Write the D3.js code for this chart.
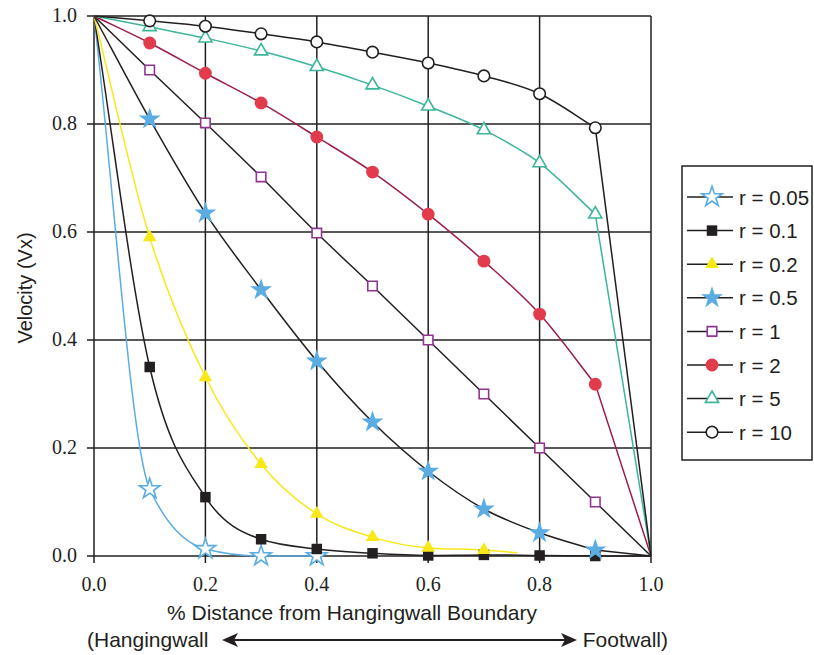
<!DOCTYPE html>
<html>
<head>
<meta charset="utf-8">
<script src="https://cdn.jsdelivr.net/npm/d3@7"></script>
<style>
  body { margin: 0; background: #fff; }
  .tick-label { font-family: "Liberation Serif", "DejaVu Serif", serif; font-size: 20px; fill: #231f20; }
  .label { font-family: "Liberation Sans", Arial, sans-serif; font-size: 21px; fill: #231f20; }
  .legend-text { font-family: "Liberation Sans", Arial, sans-serif; font-size: 20.5px; fill: #231f20; }
</style>
</head>
<body>
<script>
// x positions of the samples (fraction of distance from hangingwall boundary)
var xs = [0, 0.1, 0.2, 0.3, 0.4, 0.5, 0.6, 0.7, 0.8, 0.9, 1.0];
var ticks = [0, 0.2, 0.4, 0.6, 0.8, 1.0];

// velocity values
var r005 = [1.0, 0.124, 0.013, 0.0, 0.0];
var r01 = [1.0, 0.35, 0.109, 0.031, 0.013, 0.005, 0.001, 0.002, 0.001, 0.0, 0.0];
var r02 = [1.0, 0.59, 0.331, 0.17, 0.078, 0.035, 0.015, 0.011, 0.006];
var r02x = [0, 0.1, 0.2, 0.3, 0.4, 0.5, 0.6, 0.7, 0.76];
var r05 = [1.0, 0.809, 0.635, 0.493, 0.361, 0.248, 0.157, 0.087, 0.043, 0.011, 0.0];
var r1 = [1.0, 0.9, 0.802, 0.702, 0.598, 0.5, 0.4, 0.3, 0.2, 0.1, 0.0];
var r2 = [1.0, 0.95, 0.894, 0.839, 0.776, 0.711, 0.633, 0.546, 0.448, 0.318, 0.0];
var r5 = [1.0, 0.98, 0.959, 0.935, 0.906, 0.872, 0.833, 0.789, 0.728, 0.633, 0.0];
var r10 = [1.0, 0.991, 0.981, 0.967, 0.952, 0.933, 0.913, 0.889, 0.856, 0.793, 0.0];

var legendNames = ["r = 0.05", "r = 0.1", "r = 0.2", "r = 0.5", "r = 1", "r = 2", "r = 5", "r = 10"];

var blue = "#5aace2", yellow = "#f9e816", purple = "#8e3592", red = "#e23b4c",
    maroon = "#9b1d4c", teal = "#3cb59b", ink = "#231f20";

var series = [
  {x: xs.slice(0, 5), y: r005, line: blue, sym: d3.symbolStar, size: 130, fill: "#fff", stroke: blue},
  {x: xs, y: r01, line: ink, sym: d3.symbolSquare, size: 110, fill: ink, stroke: "none"},
  {x: r02x, y: r02, line: yellow, sym: d3.symbolTriangle, size: 80, fill: yellow, stroke: "none"},
  {x: xs, y: r05, line: ink, sym: d3.symbolStar, size: 150, fill: blue, stroke: "none"},
  {x: xs, y: r1, line: ink, sym: d3.symbolSquare, size: 90, fill: "#fff", stroke: purple},
  {x: xs, y: r2, line: maroon, sym: d3.symbolCircle, size: 130, fill: red, stroke: "none"},
  {x: xs, y: r5, line: teal, sym: d3.symbolTriangle, size: 75, fill: "#fff", stroke: teal},
  {x: xs, y: r10, line: ink, sym: d3.symbolCircle, size: 105, fill: "#fff", stroke: ink}
];

var width = 814, height = 655;
var x = d3.scaleLinear().domain([0, 1]).range([94, 651]);
var y = d3.scaleLinear().domain([0, 1]).range([556, 16]);

var svg = d3.select("body").append("svg")
  .attr("width", width)
  .attr("height", height);

// grid
var grid = svg.append("g");
grid.selectAll(".vg").data(ticks).enter().append("line")
  .attr("x1", function(d) { return x(d); }).attr("x2", function(d) { return x(d); })
  .attr("y1", y(1)).attr("y2", y(0) + 7)
  .attr("stroke", ink).attr("stroke-width", 1.5);
grid.selectAll(".hg").data(ticks).enter().append("line")
  .attr("y1", function(d) { return y(d); }).attr("y2", function(d) { return y(d); })
  .attr("x1", x(0) - 7).attr("x2", x(1))
  .attr("stroke", ink).attr("stroke-width", 1.5);

// tick labels
svg.selectAll(".xt").data(ticks).enter().append("text")
  .attr("class", "tick-label")
  .attr("x", function(d) { return x(d); })
  .attr("y", 591)
  .attr("text-anchor", "middle")
  .text(function(d) { return d3.format(".1f")(d); });
svg.selectAll(".yt").data(ticks).enter().append("text")
  .attr("class", "tick-label")
  .attr("x", 77)
  .attr("y", function(d) { return y(d) + 6; })
  .attr("text-anchor", "end")
  .text(function(d) { return d3.format(".1f")(d); });

// monotone cubic through pixel points; the end tangents follow the chord,
// and a series reaching x = 1 drops straight to the corner
function smoothPath(pts, straightEnd) {
  var last = null;
  if (straightEnd) last = pts.pop();
  var n = pts.length, s = [], m = [];
  for (var i = 0; i < n - 1; i++) s.push((pts[i + 1][1] - pts[i][1]) / (pts[i + 1][0] - pts[i][0]));
  for (var i = 0; i < n; i++) {
    if (i === 0) m.push(s[0]);
    else if (i === n - 1) m.push(s[n - 2]);
    else {
      var h0 = pts[i][0] - pts[i - 1][0], h1 = pts[i + 1][0] - pts[i][0];
      var p = (s[i - 1] * h1 + s[i] * h0) / (h0 + h1);
      m.push((Math.sign(s[i - 1]) + Math.sign(s[i])) *
        Math.min(Math.abs(s[i - 1]), Math.abs(s[i]), 0.5 * Math.abs(p)) || 0);
    }
  }
  var path = d3.path();
  path.moveTo(pts[0][0], pts[0][1]);
  for (var i = 0; i < n - 1; i++) {
    var dx = (pts[i + 1][0] - pts[i][0]) / 3;
    path.bezierCurveTo(pts[i][0] + dx, pts[i][1] + dx * m[i],
      pts[i + 1][0] - dx, pts[i + 1][1] - dx * m[i + 1],
      pts[i + 1][0], pts[i + 1][1]);
  }
  if (last) path.lineTo(last[0], last[1]);
  return path.toString();
}

var plot = svg.append("g");
series.forEach(function(s) {
  var pts = s.x.map(function(v, i) { return [x(v), y(s.y[i])]; });
  plot.append("path")
    .attr("d", smoothPath(pts, s.x[s.x.length - 1] === 1))
    .attr("fill", "none")
    .attr("stroke", s.line)
    .attr("stroke-width", 1.5);
});
series.forEach(function(s) {
  var pts = s.x.map(function(v, i) { return [v, s.y[i]]; })
    .filter(function(p) { return p[0] > 0.05 && p[0] < 0.95 && Math.abs(p[0] * 10 - Math.round(p[0] * 10)) < 1e-6; });
  plot.selectAll(null).data(pts).enter().append("path")
    .attr("d", d3.symbol().type(s.sym).size(s.size))
    .attr("transform", function(p) { return "translate(" + x(p[0]) + "," + y(p[1]) + ")"; })
    .attr("fill", s.fill)
    .attr("stroke", s.stroke)
    .attr("stroke-width", 1.6);
});

// axis titles
svg.append("text")
  .attr("class", "label")
  .style("font-size", "20px")
  .attr("transform", "translate(32,288) rotate(-90)")
  .attr("text-anchor", "middle")
  .text("Velocity (Vx)");
svg.append("text")
  .attr("class", "label")
  .attr("x", 352)
  .attr("y", 620)
  .attr("text-anchor", "middle")
  .text("% Distance from Hangingwall Boundary");
svg.append("text")
  .attr("class", "label")
  .attr("x", 87)
  .attr("y", 647)
  .text("(Hangingwall");
svg.append("text")
  .attr("class", "label")
  .attr("x", 668)
  .attr("y", 647)
  .attr("text-anchor", "end")
  .text("Footwall)");

// double arrow
svg.append("line")
  .attr("x1", 232).attr("x2", 567).attr("y1", 640).attr("y2", 640)
  .attr("stroke", ink).attr("stroke-width", 2);
svg.append("path").attr("d", "M222,640 L238,633 L234,640 L238,647 Z").attr("fill", ink);
svg.append("path").attr("d", "M577,640 L561,633 L565,640 L561,647 Z").attr("fill", ink);

// legend
var lg = svg.append("g");
lg.append("rect")
  .attr("x", 682).attr("y", 166).attr("width", 130).attr("height", 294)
  .attr("fill", "none").attr("stroke", ink).attr("stroke-width", 1.5);
var rows = lg.selectAll(".row").data(series).enter().append("g")
  .attr("transform", function(d, i) { return "translate(0," + (197 + i * 33.6) + ")"; });
rows.append("line")
  .attr("x1", 687).attr("x2", 733).attr("y1", 0).attr("y2", 0)
  .attr("stroke", ink).attr("stroke-width", 1.5);
rows.append("path")
  .attr("d", function(d) { return d3.symbol().type(d.sym).size(d.size)(); })
  .attr("transform", "translate(712,0)")
  .attr("fill", function(d) { return d.fill; })
  .attr("stroke", function(d) { return d.stroke; })
  .attr("stroke-width", 1.6);
rows.append("text")
  .attr("class", "legend-text")
  .attr("x", 739)
  .attr("y", 7.5)
  .text(function(d, i) { return legendNames[i]; });
</script>
</body>
</html>
